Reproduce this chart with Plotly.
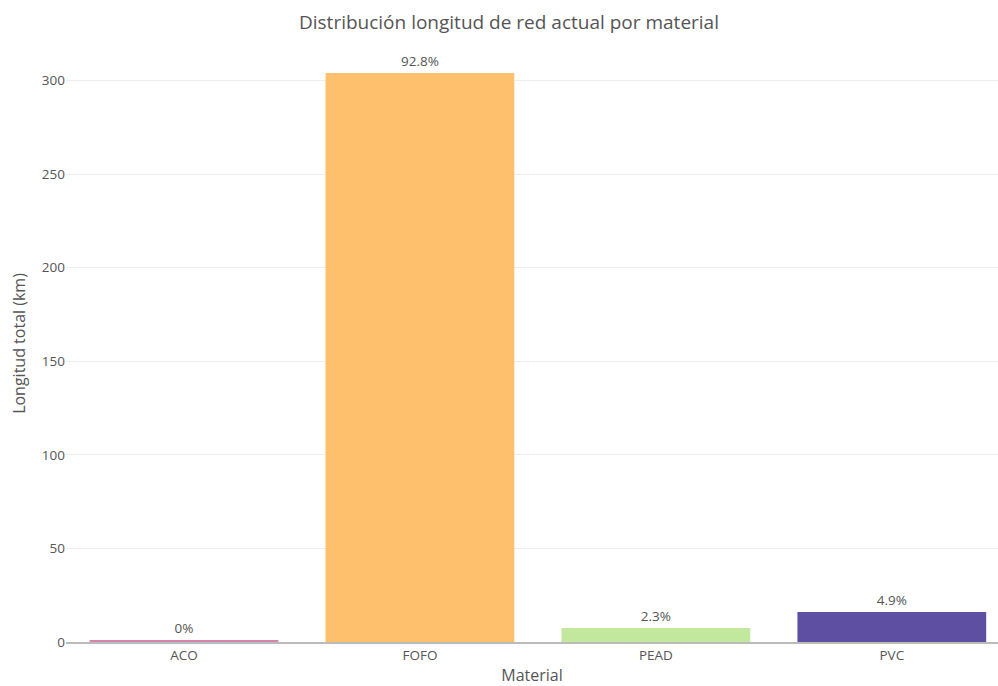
import plotly.graph_objects as go

# Network length by pipe material
materiales = ["ACO", "FOFO", "PEAD", "PVC"]
longitud_km = [0.8, 304.0, 7.5, 16.0]
porcentajes = ["0%", "92.8%", "2.3%", "4.9%"]
colores = ["#d685aa", "#ffc06e", "#c1e89c", "#5e4fa2"]

fig = go.Figure(
    go.Bar(
        x=materiales,
        y=longitud_km,
        text=porcentajes,
        textposition="outside",
        cliponaxis=False,
        marker=dict(color=colores, line=dict(width=0)),
        textfont=dict(size=13.5, color="#555"),
        showlegend=False,
    )
)

fig.update_layout(
    width=998,
    height=686,
    autosize=False,
    paper_bgcolor="white",
    plot_bgcolor="white",
    font=dict(family="Open Sans, sans-serif", color="#555", size=13),
    title=dict(
        text="Distribución longitud de red actual por material",
        x=0.51,
        xanchor="center",
        y=0.968,
        yanchor="middle",
        font=dict(size=19, color="#555"),
    ),
    margin=dict(l=66, r=0, t=45, b=44),
    bargap=0.2,
)

fig.update_xaxes(
    title=dict(text="Material", font=dict(size=16, color="#555"), standoff=8),
    range=[-0.5, 3.45],
    showline=True,
    linecolor="#bbb",
    linewidth=1.5,
    showgrid=False,
    ticks="",
    tickfont=dict(size=13.5, color="#555"),
)

fig.update_yaxes(
    title=dict(text="Longitud total (km)", font=dict(size=16, color="#555"), standoff=12),
    range=[0, 319],
    tickvals=[0, 50, 100, 150, 200, 250, 300],
    showgrid=True,
    gridcolor="#eee",
    zeroline=False,
    showline=False,
    tickfont=dict(size=13.5, color="#555"),
)

fig.write_html("out.html")
